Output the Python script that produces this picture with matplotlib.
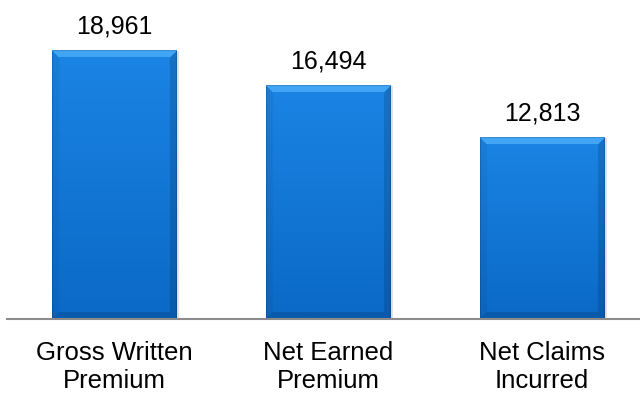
import numpy as np
import matplotlib
matplotlib.use("Agg")
import matplotlib.pyplot as plt
from matplotlib.colors import to_rgb

categories = ["Gross Written\nPremium", "Net Earned\nPremium", "Net Claims\nIncurred"]
values = [18961, 16494, 12813]

plt.rcParams["font.family"] = ["Liberation Sans", "DejaVu Sans"]

W, H = 640, 393
fig = plt.figure(figsize=(W / 100, H / 100), dpi=100)
ax = fig.add_axes([7 / W, (H - 319) / H, 633 / W, 283 / H])

x = np.arange(len(values))
bar_w = 0.58
bars = ax.bar(x, values, width=bar_w, color="none", edgecolor="none", zorder=2)

ax.set_xlim(-0.5, -0.5 + 633 / 214)
ax.set_ylim(0, 20000)

fig.canvas.draw()


def bevel_image(wpx, hpx, bev=7):
    """Shaded bar face with mitred bevel edges."""
    jj, ii = np.meshgrid(np.arange(wpx) + 0.5, np.arange(hpx) + 0.5)
    dt, db = ii, hpx - ii
    dl, dr = jj, wpx - jj
    t = ii / hpx
    top_c = np.array(to_rgb("#1b84e4"))
    bot_c = np.array(to_rgb("#0b69c6"))
    img = top_c[None, None, :] * (1 - t[..., None]) + bot_c[None, None, :] * t[..., None]
    dmin = np.minimum.reduce([dt, db, dl, dr])
    in_bev = dmin < bev
    face_top = in_bev & (dt == dmin)
    face_bot = in_bev & (db == dmin) & ~face_top
    face_l = in_bev & (dl == dmin) & ~face_top & ~face_bot
    face_r = in_bev & (dr == dmin) & ~face_top & ~face_bot & ~face_l
    img[face_top] = np.array(to_rgb("#42a5f4"))
    img[face_bot] = np.array(to_rgb("#0a5aac"))
    img[face_l] = img[face_l] * 0.95
    img[face_r] = img[face_r] * 0.86
    # thin darker outline
    edge = dmin < 1.2
    img[edge] = img[edge] * 0.85
    return img


for rect in bars:
    x0, y0 = rect.get_x(), rect.get_y()
    x1, y1 = x0 + rect.get_width(), y0 + rect.get_height()
    (px0, py0), (px1, py1) = ax.transData.transform([(x0, y0), (x1, y1)])
    wpx, hpx = int(round(px1 - px0)), int(round(py1 - py0))
    img = bevel_image(wpx, hpx)
    # soft drop shadow to the right
    sx = 3 / (ax.transData.transform((1, 0))[0] - ax.transData.transform((0, 0))[0])
    ax.bar(rect.get_x() + rect.get_width() / 2 + sx, rect.get_height(), width=rect.get_width(),
           color="#000000", alpha=0.12, zorder=1, edgecolor="none")
    ax.imshow(img, extent=(x0, x1, y0, y1), aspect="auto", origin="upper", zorder=2,
              interpolation="bilinear")

for xi, v in zip(x, values):
    ax.annotate(f"{v:,}", (xi, v), xytext=(0, 9), textcoords="offset points",
                ha="center", va="bottom", fontsize=18, color="#000000", annotation_clip=False)

ax.set_xticks(x)
ax.set_xticklabels(categories, fontsize=18.5, linespacing=1.2)
ax.tick_params(axis="x", length=0, pad=16)
ax.set_yticks([])
for s in ["top", "right", "left"]:
    ax.spines[s].set_visible(False)
ax.spines["bottom"].set_color("#8c8c8c")
ax.spines["bottom"].set_linewidth(1.5)
ax.spines["bottom"].set_zorder(3)
ax.set_xlim(-0.5, -0.5 + 633 / 214)
ax.set_ylim(0, 20000)

fig.savefig("out.png", dpi=100)
